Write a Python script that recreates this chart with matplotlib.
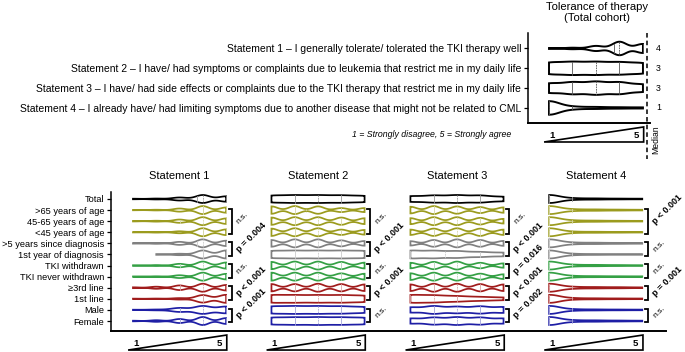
import numpy as np
import matplotlib.pyplot as plt
from matplotlib.patches import Polygon

plt.rcParams['font.family'] = ['Liberation Sans', 'DejaVu Sans']

levels = np.arange(1, 6)

statements = [
    "Statement 1 – I generally tolerate/ tolerated the TKI therapy well",
    "Statement 2 – I have/ had symptoms or complaints due to leukemia that restrict me in my daily life",
    "Statement 3 – I have/ had side effects or complaints due to the TKI therapy that restrict me in my daily life",
    "Statement 4 – I already have/ had limiting symptoms due to another disease that might not be related to CML",
]
panel_titles = ["Statement 1", "Statement 2", "Statement 3", "Statement 4"]
row_labels = ["Total", ">65 years of age", "45-65 years of age", "<45 years of age",
              ">5 years since diagnosis", "1st year of diagnosis", "TKI withdrawn",
              "TKI never withdrawn", "≥3rd line", "1st line", "Male", "Female"]
row_colors = ["#000000", "#9b9b1e", "#9b9b1e", "#9b9b1e", "#808080", "#808080",
              "#35a045", "#35a045", "#a01c1c", "#a01c1c", "#1e1ea5", "#1e1ea5"]

# share of answers (%) at Likert levels 1..5, one list per row
s1_share = [[3, 5, 17, 45, 30], [2, 4, 18, 46, 30], [3, 5, 18, 44, 30], [2, 4, 12, 48, 34],
            [3, 5, 17, 45, 30], [0, 4, 8, 44, 44], [3, 5, 18, 42, 32], [2, 4, 16, 46, 32],
            [4, 10, 22, 38, 26], [2, 3, 8, 42, 45], [2, 4, 20, 40, 34], [3, 8, 20, 40, 29]]
s2_share = [[20, 21, 21, 20, 18], [24, 26, 24, 13, 13], [20, 22, 22, 20, 16], [22, 24, 24, 16, 14],
            [20, 24, 24, 18, 14], [20, 20, 20, 20, 20], [20, 22, 22, 20, 16], [22, 22, 22, 18, 16],
            [20, 20, 22, 20, 18], [22, 20, 20, 20, 18], [21, 21, 21, 20, 17], [20, 20, 21, 20, 19]]
s3_share = [[18, 22, 24, 22, 14], [20, 24, 22, 18, 16], [18, 24, 24, 20, 14], [16, 22, 24, 22, 16],
            [14, 22, 26, 22, 16], [26, 24, 22, 16, 12], [18, 24, 26, 18, 14], [20, 24, 24, 18, 14],
            [18, 22, 22, 20, 18], [30, 26, 20, 14, 10], [16, 24, 20, 22, 18], [16, 22, 24, 22, 16]]
s4_share = [[68, 12, 9, 6, 5], [66, 12, 10, 7, 5], [68, 12, 9, 6, 5], [72, 10, 8, 6, 4],
            [66, 12, 10, 7, 5], [74, 10, 7, 5, 4], [66, 12, 10, 7, 5], [70, 11, 8, 6, 5],
            [64, 13, 10, 8, 5], [70, 11, 8, 6, 5], [70, 11, 8, 6, 5], [66, 12, 10, 7, 5]]
all_share = [s1_share, s2_share, s3_share, s4_share]

# kde bandwidth of each violin
s1_bw = [0.3, 0.25, 0.25, 0.25, 0.25, 0.28, 0.25, 0.25, 0.25, 0.3, 0.35, 0.25]
s2_bw = [0.5, 0.25, 0.25, 0.25, 0.25, 0.5, 0.25, 0.25, 0.25, 0.5, 0.5, 0.5]
s3_bw = [0.45, 0.25, 0.25, 0.25, 0.25, 0.45, 0.25, 0.25, 0.25, 0.5, 0.4, 0.4]
s4_bw = [0.45] * 12
all_bw = [s1_bw, s2_bw, s3_bw, s4_bw]

# row ranges compared and test results
groups = [(1, 3), (4, 5), (6, 7), (8, 9), (10, 11)]
s1_p = ["n.s.", "p = 0.004", "n.s.", "p < 0.001", "p < 0.001"]
s2_p = ["n.s.", "p < 0.001", "n.s.", "p < 0.001", "n.s."]
s3_p = ["n.s.", "p < 0.001", "p = 0.016", "p < 0.001", "p = 0.002"]
s4_p = ["p < 0.001", "n.s.", "n.s.", "p = 0.001", "n.s."]
all_p = [s1_p, s2_p, s3_p, s4_p]


def lighten(c, f):
    rgb = np.array(plt.matplotlib.colors.to_rgb(c))
    return tuple(rgb + (1 - rgb) * f)


def violin(ax, off, y, share, bw, half, color, lw, inner, minhw):
    share = np.asarray(share)
    present = levels[share > 0]
    xs = np.linspace(present.min(), present.max(), 400)
    dens = (share[:, None] * np.exp(-0.5 * ((xs[None, :] - levels[:, None]) / bw) ** 2)).sum(0)
    w = dens / dens.max() * half
    pts = np.concatenate([np.c_[xs + off, y - w], np.c_[xs[::-1] + off, (y + w)[::-1]]])
    ax.add_patch(Polygon(pts, closed=True, facecolor='white', edgecolor=color, lw=lw, zorder=2))
    sample = np.repeat(levels, share)
    q1, med, q3 = np.percentile(sample, [25, 50, 75])
    for q, ls in ((q1, '-'), (med, (0, (2, 1))), (q3, '-')):
        hw = max(np.interp(q, xs, w), minhw)
        ax.plot([q + off] * 2, [y - hw, y + hw], color=inner, lw=0.6, ls=ls, zorder=3)
    return med


def scale_triangle(ax, off, y0, y1, fs):
    tr = ax.get_xaxis_transform()
    ax.add_patch(Polygon([[off + 0.79, y1], [off + 5.03, y0], [off + 5.03, y1]], closed=True,
                         facecolor='white', edgecolor='black', lw=1.2, transform=tr, clip_on=False))
    ax.text(off + 1.12, (y0 + y1) / 2 - 0.01, "1", transform=tr, fontsize=fs, fontweight='bold',
            ha='center', va='center')
    ax.text(off + 4.72, (y0 + y1) / 2 - 0.01, "5", transform=tr, fontsize=fs, fontweight='bold',
            ha='center', va='center')


fig = plt.figure(figsize=(6.85, 3.52), dpi=100)

# ---- top panel: total cohort ----
ax_t = fig.add_axes([528 / 685, 1 - 123 / 352, 122 / 685, 90 / 352])
medians = []
for i in range(4):
    m = violin(ax_t, 0, i, all_share[i][0], all_bw[i][0], 0.34, 'black', 1.4, '#555555', 0.0)
    medians.append(m)
ax_t.set_xlim(0.106, 5.30)
ax_t.set_ylim(3.76, -0.78)
ax_t.set_yticks(range(4))
ax_t.set_yticklabels(statements, fontsize=7.45)
ax_t.set_xticks([])
for s in ('top', 'right'):
    ax_t.spines[s].set_visible(False)
ax_t.spines['left'].set_linewidth(1.1)
ax_t.spines['bottom'].set_linewidth(1.4)
ax_t.tick_params(axis='y', length=3, width=0.9, pad=2)
ax_t.text(3.05, -1.8, "Tolerance of therapy\n(Total cohort)", ha='center', va='center',
          fontsize=8.1, linespacing=1.1)
for i, m in enumerate(medians):
    ax_t.text(5.55, i, "%d" % m, fontsize=6.3, ha='left', va='center')
ax_t.plot([5.16, 5.16], [-0.78, 5.6], color='black', lw=1.1, ls=(0, (3, 2)), clip_on=False)
ax_t.text(5.55, 4.6, "Median", rotation=90, fontsize=6.2, ha='center', va='center')
scale_triangle(ax_t, 0, -0.044, -0.211, 6.8)
ax_t.text(-0.6, -0.13, "1 = Strongly disagree, 5 = Strongly agree", transform=ax_t.get_xaxis_transform(),
          fontsize=6.3, style='italic', ha='right', va='center')

# ---- bottom panel: subgroups ----
ax = fig.add_axes([111 / 685, 21 / 352, 555 / 685, 139 / 352])
panel_off = [0, 5.95, 11.92, 17.88]
for k in range(4):
    off = panel_off[k]
    for r in range(12):
        violin(ax, off, r, all_share[k][r], all_bw[k][r], 0.36, row_colors[r], 1.25,
               lighten(row_colors[r], 0.6), 0.14)
    ax.text(off + 3, 1.115, panel_titles[k], transform=ax.get_xaxis_transform(),
            fontsize=8, ha='center', va='center')
    bx = off + 5.25
    for (a, b), lab in zip(groups, all_p[k]):
        ax.plot([bx - 0.13, bx, bx, bx - 0.13], [a - 0.12, a - 0.12, b + 0.12, b + 0.12],
                color='black', lw=1.3, clip_on=False, solid_joinstyle='miter')
        bold = lab != "n.s."
        ax.text(bx + 0.25, (a + b) / 2 + 0.15, lab, rotation=45, rotation_mode='anchor',
                ha='left', va='center', fontsize=6.4 if bold else 6.1,
                fontweight='bold' if bold else 'normal', clip_on=False)
    scale_triangle(ax, off, -0.029, -0.137, 6.8)

ax.set_xlim(0.056, 23.9)
ax.set_ylim(11.9, -0.63)
ax.set_yticks(range(12))
ax.set_yticklabels(row_labels, fontsize=6.7)
ax.set_xticks([])
for s in ('top', 'right'):
    ax.spines[s].set_visible(False)
ax.spines['left'].set_linewidth(1.1)
ax.spines['bottom'].set_linewidth(1.4)
ax.tick_params(axis='y', length=3, width=0.9, pad=2)

fig.savefig("out.png", dpi=100)
